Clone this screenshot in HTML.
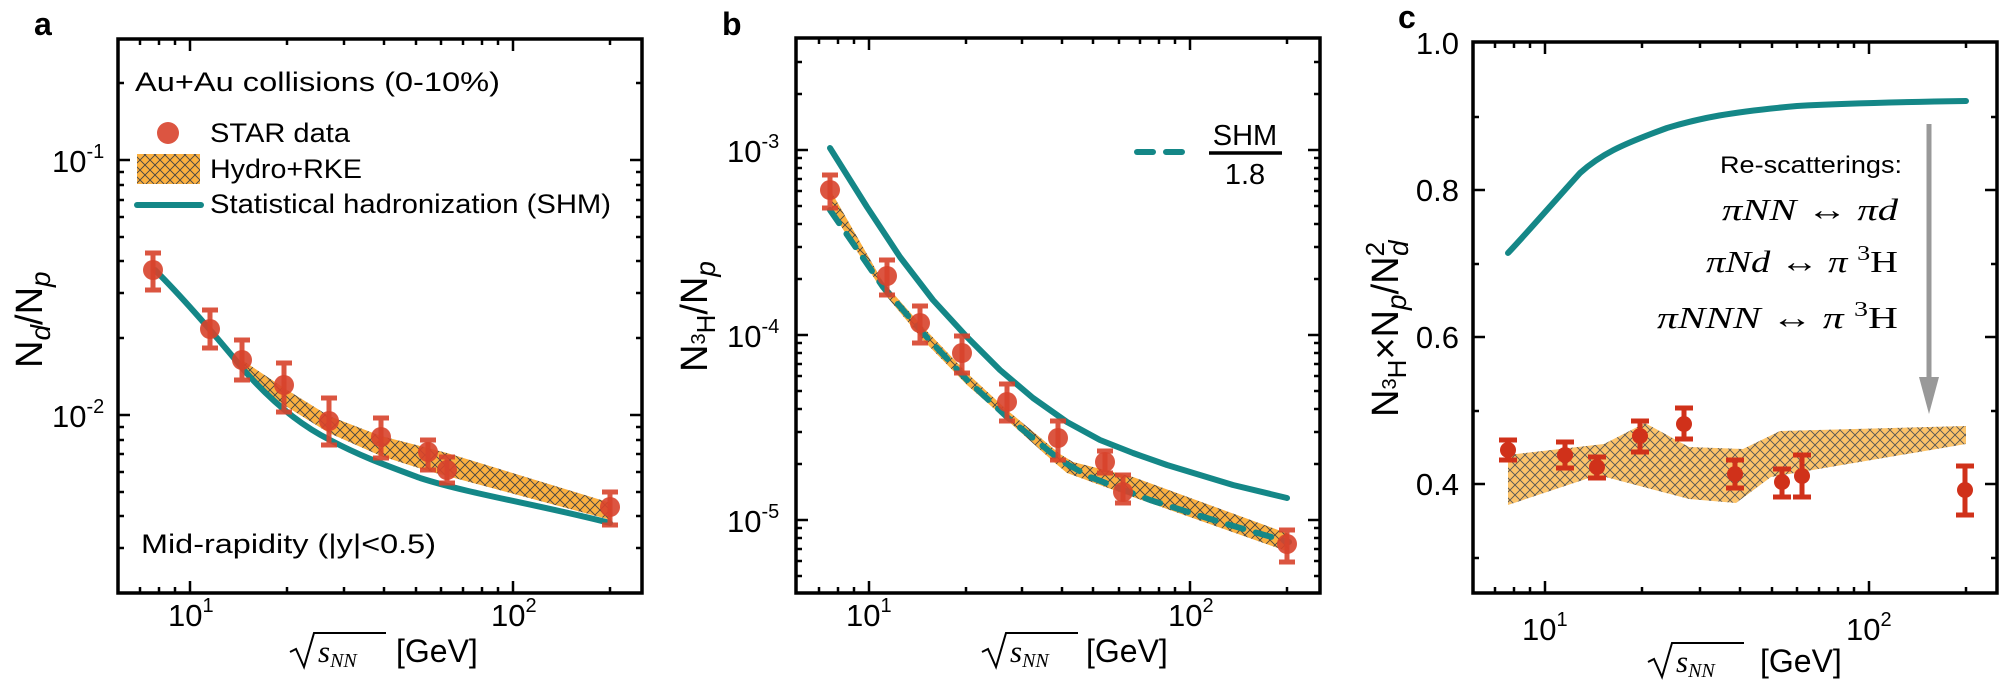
<!DOCTYPE html>
<html><head><meta charset="utf-8"><style>
html,body{margin:0;padding:0;background:#fff;}
svg{display:block;font-family:"Liberation Sans",Arial,sans-serif;}
.tk{stroke:#000;stroke-width:2.5;fill:none}
.fr{stroke:#000;stroke-width:3.5;fill:none}
.tl{font-size:31px;fill:#000}
.shm{stroke:#148787;stroke-width:6;fill:none;stroke-linecap:round;stroke-linejoin:round}
.eb{stroke:#d8432c;stroke-width:5;opacity:.9}
.pt{fill:#d8432c;opacity:.9}
.eb2{stroke:#d0311a;stroke-width:5}
.pt2{fill:#d0311a}
.band{fill:url(#hatch)}
.m{font-family:"Liberation Serif",serif;font-style:italic;font-size:31px}
</style></head><body>
<svg width="2000" height="680" viewBox="0 0 2000 680" xmlns="http://www.w3.org/2000/svg">
<defs>
<pattern id="hatch" width="10" height="10" patternUnits="userSpaceOnUse">
<rect width="10" height="10" fill="#fbb040"/>
<path d="M0,0 L10,10 M10,0 L0,10" stroke="#444" stroke-width="0.9"/>
</pattern>
<pattern id="hatchc" width="10" height="10" patternUnits="userSpaceOnUse">
<rect width="10" height="10" fill="#fcc36a"/>
<path d="M0,0 L10,10 M10,0 L0,10" stroke="#555" stroke-width="0.9"/>
</pattern>
</defs>

<!-- ================= PANEL A ================= -->
<text x="34" y="35" font-size="32" font-weight="bold">a</text>
<rect class="fr" x="118" y="39" width="524" height="554"/>
<path class="tk" d="M190,593v-12M513,593v-12M190,39v12M513,39v12
M140,593v-6M159,593v-6M175,593v-6M287,593v-6M344,593v-6M384,593v-6M416,593v-6M441,593v-6M463,593v-6M482,593v-6M498,593v-6M610,593v-6
M140,39v6M159,39v6M175,39v6M287,39v6M344,39v6M384,39v6M416,39v6M441,39v6M463,39v6M482,39v6M498,39v6M610,39v6"/>
<path class="tk" d="M118,160h12M118,415h12M642,160h-12M642,415h-12
M118,83h6M118,172h6M118,185h6M118,200h6M118,217h6M118,237h6M118,261h6M118,293h6M118,338h6M118,427h6M118,440h6M118,454h6M118,472h6M118,492h6M118,516h6M118,548h6
M642,83h-6M642,172h-6M642,185h-6M642,200h-6M642,217h-6M642,237h-6M642,261h-6M642,293h-6M642,338h-6M642,427h-6M642,440h-6M642,454h-6M642,472h-6M642,492h-6M642,516h-6M642,548h-6"/>
<text class="tl" x="52" y="172">10<tspan dy="-14" font-size="20">-1</tspan></text>
<text class="tl" x="52" y="427">10<tspan dy="-14" font-size="20">-2</tspan></text>
<text class="tl" x="168" y="626">10<tspan dy="-14" font-size="20">1</tspan></text>
<text class="tl" x="491" y="626">10<tspan dy="-14" font-size="20">2</tspan></text>
<text transform="translate(42,368) rotate(-90)" font-size="38">N<tspan font-style="italic" font-size="28" dy="8">d</tspan><tspan dy="-8">/N</tspan><tspan font-style="italic" font-size="28" dy="8">p</tspan></text>
<g>
<path d="M290,652 l6,-3 l8,18 l10,-34 h72" stroke="#000" stroke-width="2" fill="none"/>
<text class="m" x="318" y="662" font-size="30">s<tspan font-size="20" dy="5">NN</tspan></text>
<text x="396" y="662" font-size="32">[GeV]</text>
</g>
<path class="band" d="M242,360 L284,388 L329,416 L381,436 L428,448 L447,453 L611,503 L611,520 L447,476 L428,471 L381,456 L329,433 L284,405 L242,372 Z"/>
<path class="shm" d="M155,270 C185,300 215,335 243,369 C270,400 300,425 330,440 C360,456 385,465 420,478 C470,494 540,505 610,523"/>
<g class="eb">
<path d="M153,253v37M145,253h16M145,290h16"/>
<path d="M210,310v38M202,310h16M202,348h16"/>
<path d="M242,340v40M234,340h16M234,380h16"/>
<path d="M284,363v49M276,363h16M276,412h16"/>
<path d="M329,398v47M321,398h16M321,445h16"/>
<path d="M381,418v40M373,418h16M373,458h16"/>
<path d="M428,440v30M420,440h16M420,470h16"/>
<path d="M447,457v26M439,457h16M439,483h16"/>
<path d="M610,492v33M602,492h16M602,525h16"/>
</g>
<g class="pt">
<circle cx="153" cy="270" r="10"/><circle cx="210" cy="329" r="10"/><circle cx="242" cy="360" r="10"/><circle cx="284" cy="385" r="10"/><circle cx="329" cy="421" r="10"/><circle cx="381" cy="437" r="10"/><circle cx="428" cy="452" r="10"/><circle cx="447" cy="470" r="10"/><circle cx="610" cy="507" r="10"/>
</g>
<text x="135" y="91" font-size="27" textLength="365" lengthAdjust="spacingAndGlyphs">Au+Au collisions (0-10%)</text>
<circle class="pt" cx="168" cy="133" r="11"/>
<text x="210" y="142" font-size="27" textLength="140" lengthAdjust="spacingAndGlyphs">STAR data</text>
<rect x="137" y="154" width="63" height="30" fill="url(#hatch)"/>
<text x="210" y="178" font-size="27" textLength="152" lengthAdjust="spacingAndGlyphs">Hydro+RKE</text>
<path class="shm" d="M137,205h64"/>
<text x="210" y="213" font-size="27" textLength="401" lengthAdjust="spacingAndGlyphs">Statistical hadronization (SHM)</text>
<text x="141" y="553" font-size="27" textLength="295" lengthAdjust="spacingAndGlyphs">Mid-rapidity (|y|&lt;0.5)</text>

<!-- ================= PANEL B ================= -->
<text x="722" y="35" font-size="32" font-weight="bold">b</text>
<rect class="fr" x="796" y="38" width="524" height="555"/>
<path class="tk" d="M869,593v-12M1190,593v-12M869,38v12M1190,38v12
M819,593v-6M838,593v-6M854,593v-6M966,593v-6M1022,593v-6M1062,593v-6M1093,593v-6M1119,593v-6M1140,593v-6M1159,593v-6M1175,593v-6M1287,593v-6
M819,38v6M838,38v6M854,38v6M966,38v6M1022,38v6M1062,38v6M1093,38v6M1119,38v6M1140,38v6M1159,38v6M1175,38v6M1287,38v6"/>
<path class="tk" d="M796,150h12M796,335h12M796,520h12M1320,150h-12M1320,335h-12M1320,520h-12
M796,62h6M796,94h6M796,158h6M796,168h6M796,179h6M796,191h6M796,206h6M796,224h6M796,247h6M796,279h6M796,343h6M796,353h6M796,364h6M796,376h6M796,391h6M796,409h6M796,432h6M796,464h6M796,528h6M796,538h6M796,549h6M796,561h6M796,576h6
M1320,62h-6M1320,94h-6M1320,158h-6M1320,168h-6M1320,179h-6M1320,191h-6M1320,206h-6M1320,224h-6M1320,247h-6M1320,279h-6M1320,343h-6M1320,353h-6M1320,364h-6M1320,376h-6M1320,391h-6M1320,409h-6M1320,432h-6M1320,464h-6M1320,528h-6M1320,538h-6M1320,549h-6M1320,561h-6M1320,576h-6"/>
<text class="tl" x="727" y="162">10<tspan dy="-14" font-size="20">-3</tspan></text>
<text class="tl" x="727" y="347">10<tspan dy="-14" font-size="20">-4</tspan></text>
<text class="tl" x="727" y="532">10<tspan dy="-14" font-size="20">-5</tspan></text>
<text class="tl" x="846" y="626">10<tspan dy="-14" font-size="20">1</tspan></text>
<text class="tl" x="1168" y="626">10<tspan dy="-14" font-size="20">2</tspan></text>
<text transform="translate(707,372) rotate(-90)" font-size="38">N<tspan font-size="20" dy="-2">3</tspan><tspan font-size="26" dy="10">H</tspan><tspan dy="-8">/N</tspan><tspan font-style="italic" font-size="28" dy="8">p</tspan></text>
<g>
<path d="M982,652 l6,-3 l8,18 l10,-34 h72" stroke="#000" stroke-width="2" fill="none"/>
<text class="m" x="1010" y="662" font-size="30">s<tspan font-size="20" dy="5">NN</tspan></text>
<text x="1086" y="662" font-size="32">[GeV]</text>
</g>
<path class="band" d="M832,193 L883,282 L923,327 L967,373 L1007,410 L1060,454 L1073,462 L1133,477 L1289,534 L1289,552 L1133,497 L1067,473 L1055,463 L1007,420 L967,385 L923,340 L883,292 L832,212 Z"/>
<polyline class="shm" points="830,148 867,207 900,257 933,300 967,337 1000,370 1033,398 1067,422 1100,440 1133,453 1167,465 1200,475 1233,485 1287,498"/>
<polyline class="shm" stroke-dasharray="16,13" points="830,210 883,287 923,333 967,380 1007,417 1060,460 1090,477 1150,500 1223,523 1289,542"/>
<g class="eb">
<path d="M830,175v33M822,175h16M822,208h16"/>
<path d="M887,260v35M879,260h16M879,295h16"/>
<path d="M920,306v37M912,306h16M912,343h16"/>
<path d="M962,336v37M954,336h16M954,373h16"/>
<path d="M1007,384v37M999,384h16M999,421h16"/>
<path d="M1058,421v39M1050,421h16M1050,460h16"/>
<path d="M1105,451v22M1097,451h16M1097,473h16"/>
<path d="M1123,475v28M1115,475h16M1115,503h16"/>
<path d="M1287,530v32M1279,530h16M1279,562h16"/>
</g>
<g class="pt">
<circle cx="830" cy="190" r="10"/><circle cx="887" cy="276" r="10"/><circle cx="920" cy="323" r="10"/><circle cx="962" cy="353" r="10"/><circle cx="1007" cy="402" r="10"/><circle cx="1058" cy="438" r="10"/><circle cx="1105" cy="462" r="10"/><circle cx="1123" cy="492" r="10"/><circle cx="1287" cy="544" r="10"/>
</g>
<path class="shm" stroke-dasharray="16,13" d="M1137,152h54"/>
<text x="1245" y="145" font-size="29" text-anchor="middle">SHM</text>
<path d="M1209,153h73" stroke="#000" stroke-width="3.5"/>
<text x="1245" y="184" font-size="29" text-anchor="middle">1.8</text>

<!-- ================= PANEL C ================= -->
<text x="1398" y="28" font-size="32" font-weight="bold">c</text>
<rect class="fr" x="1473" y="42" width="524" height="551"/>
<path class="tk" d="M1545,593v-12M1869,593v-12M1545,42v12M1869,42v12
M1495,593v-6M1514,593v-6M1530,593v-6M1642,593v-6M1700,593v-6M1740,593v-6M1772,593v-6M1797,593v-6M1819,593v-6M1838,593v-6M1854,593v-6M1966,593v-6
M1495,42v6M1514,42v6M1530,42v6M1642,42v6M1700,42v6M1740,42v6M1772,42v6M1797,42v6M1819,42v6M1838,42v6M1854,42v6M1966,42v6"/>
<path class="tk" d="M1473,190h12M1473,337h12M1473,484h12M1997,190h-12M1997,337h-12M1997,484h-12
M1473,117h6M1473,264h6M1473,411h6M1473,558h6M1997,117h-6M1997,264h-6M1997,411h-6M1997,558h-6"/>
<text class="tl" x="1459" y="54" text-anchor="end">1.0</text>
<text class="tl" x="1459" y="201" text-anchor="end">0.8</text>
<text class="tl" x="1459" y="348" text-anchor="end">0.6</text>
<text class="tl" x="1459" y="495" text-anchor="end">0.4</text>
<text class="tl" x="1522" y="640">10<tspan dy="-14" font-size="20">1</tspan></text>
<text class="tl" x="1846" y="640">10<tspan dy="-14" font-size="20">2</tspan></text>
<text transform="translate(1398,417) rotate(-90)" font-size="38">N<tspan font-size="20" dy="-2">3</tspan><tspan font-size="26" dy="10">H</tspan><tspan dy="-8">×N</tspan><tspan font-style="italic" font-size="28" dy="8">p</tspan><tspan dy="-8">/N</tspan><tspan font-size="26" dy="-14">2</tspan><tspan font-style="italic" font-size="28" dx="-14" dy="24">d</tspan></text>
<g>
<path d="M1648,662 l6,-3 l8,18 l10,-34 h72" stroke="#000" stroke-width="2" fill="none"/>
<text class="m" x="1676" y="672" font-size="30">s<tspan font-size="20" dy="5">NN</tspan></text>
<text x="1760" y="672" font-size="32">[GeV]</text>
</g>
<path fill="url(#hatchc)" d="M1508,455 L1604,444 L1645,423 L1689,447 L1743,449 L1780,431 L1966,426 L1966,444 L1771,477 L1736,503 L1689,499 L1598,475 L1508,505 Z"/>
<path class="shm" d="M1508,253 C1525,235 1545,212 1580,173 C1600,155 1620,145 1667,128 C1700,118 1730,112 1797,106 C1850,103 1900,102 1966,101"/>
<path d="M1929,124V380" stroke="#999" stroke-width="5"/>
<path d="M1919,377h20l-10,37z" fill="#999"/>
<text x="1902" y="173" font-size="24" text-anchor="end" textLength="182" lengthAdjust="spacingAndGlyphs">Re-scatterings:</text>
<text x="1898" y="220" font-family="Liberation Serif,serif" font-size="31" text-anchor="end" textLength="176" lengthAdjust="spacingAndGlyphs"><tspan font-style="italic">πNN</tspan> ↔ <tspan font-style="italic">πd</tspan></text>
<text x="1898" y="272" font-family="Liberation Serif,serif" font-size="31" text-anchor="end" textLength="192" lengthAdjust="spacingAndGlyphs"><tspan font-style="italic">πNd</tspan> ↔ <tspan font-style="italic">π</tspan> <tspan font-size="21" dy="-12">3</tspan><tspan dy="12">H</tspan></text>
<text x="1898" y="328" font-family="Liberation Serif,serif" font-size="31" text-anchor="end" textLength="241" lengthAdjust="spacingAndGlyphs"><tspan font-style="italic">πNNN</tspan> ↔ <tspan font-style="italic">π</tspan> <tspan font-size="21" dy="-12">3</tspan><tspan dy="12">H</tspan></text>
<g class="eb2">
<path d="M1508,440v20M1499,440h18M1499,460h18"/>
<path d="M1565,442v26M1556,442h18M1556,468h18"/>
<path d="M1597,457v21M1588,457h18M1588,478h18"/>
<path d="M1640,421v31M1631,421h18M1631,452h18"/>
<path d="M1684,408v31M1675,408h18M1675,439h18"/>
<path d="M1735,460v28M1726,460h18M1726,488h18"/>
<path d="M1782,469v28M1773,469h18M1773,497h18"/>
<path d="M1802,455v42M1793,455h18M1793,497h18"/>
<path d="M1965,466v49M1956,466h18M1956,515h18"/>
</g>
<g class="pt2">
<circle cx="1508" cy="450" r="8"/><circle cx="1565" cy="455" r="8"/><circle cx="1597" cy="467" r="8"/><circle cx="1640" cy="436" r="8"/><circle cx="1684" cy="424" r="8"/><circle cx="1735" cy="474" r="8"/><circle cx="1782" cy="482" r="8"/><circle cx="1802" cy="476" r="8"/><circle cx="1965" cy="490" r="8"/>
</g>
</svg>
</body></html>
